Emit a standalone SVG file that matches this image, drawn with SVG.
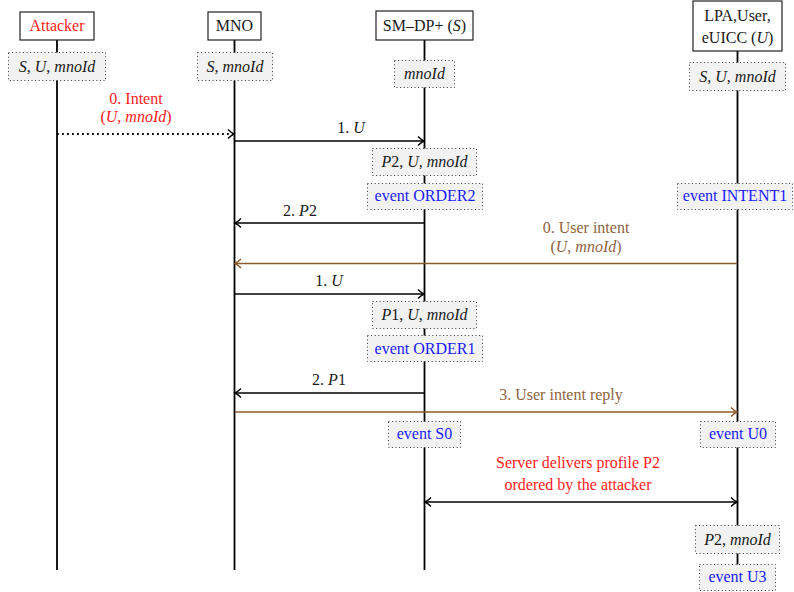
<svg xmlns="http://www.w3.org/2000/svg" width="794" height="592" viewBox="0 0 794 592">
<style>
text{font-family:"Liberation Serif","DejaVu Serif",serif;font-size:16px;text-anchor:middle;fill:#1a1a1a}
.i{font-style:italic}
.red{fill:#ff1a1a}
.blue{fill:#1a1aff}
.brown{fill:#8f6340}
.hdr{fill:#fff;stroke:#222;stroke-width:1.2}
.kb{fill:#f2f2f2;stroke:#333;stroke-width:1;stroke-dasharray:1 2.6}
.life{stroke:#000;stroke-width:1.8;fill:none}
.msg{stroke:#000;stroke-width:1.6;fill:none}
.bmsg{stroke:#8b5a2b;stroke-width:1.6;fill:none}
</style>
<defs>
<marker id="ah" markerUnits="userSpaceOnUse" markerWidth="10" markerHeight="12" refX="8" refY="6" orient="auto-start-reverse"><path d="M2,1.5 Q5,4.5 8,6 Q5,7.5 2,10.5" fill="none" stroke="#000" stroke-width="1.4"/></marker>
<marker id="ahb" markerUnits="userSpaceOnUse" markerWidth="10" markerHeight="12" refX="8" refY="6" orient="auto-start-reverse"><path d="M2,1.5 Q5,4.5 8,6 Q5,7.5 2,10.5" fill="none" stroke="#8b5a2b" stroke-width="1.4"/></marker>
</defs>
<rect width="794" height="592" fill="#fff"/>
<g id="lifelines">
<line class="life" x1="57" y1="40" x2="57" y2="570"/>
<line class="life" x1="234.5" y1="40" x2="234.5" y2="570"/>
<line class="life" x1="424.5" y1="40" x2="424.5" y2="570"/>
<line class="life" x1="737.5" y1="51" x2="737.5" y2="570"/>
</g>
<g id="connectors">
<line x1="57" y1="134" x2="234" y2="134" stroke="#000" stroke-width="1.8" stroke-dasharray="1.8 3.2" marker-end="url(#ah)"/>
<line class="msg" x1="235" y1="141" x2="424" y2="141" marker-end="url(#ah)"/>
<line class="msg" x1="424" y1="223" x2="235" y2="223" marker-end="url(#ah)"/>
<line class="bmsg" x1="737" y1="263.5" x2="235" y2="263.5" marker-end="url(#ahb)"/>
<line class="msg" x1="235" y1="294" x2="424" y2="294" marker-end="url(#ah)"/>
<line class="msg" x1="424" y1="393" x2="235" y2="393" marker-end="url(#ah)"/>
<line class="bmsg" x1="235" y1="412" x2="737" y2="412" marker-end="url(#ahb)"/>
<line class="msg" x1="425" y1="502" x2="737" y2="502" marker-start="url(#ah)" marker-end="url(#ah)"/>
<text x="136" y="104" class="red">0. Intent</text>
<text x="136" y="122" class="red">(<tspan class="i">U</tspan>, <tspan class="i">mnoId</tspan>)</text>
<text x="351" y="133">1. <tspan class="i">U</tspan></text>
<text x="300" y="216">2. <tspan class="i">P</tspan>2</text>
<text x="586" y="233" class="brown">0. User intent</text>
<text x="586" y="252" class="brown">(<tspan class="i">U</tspan>, <tspan class="i">mnoId</tspan>)</text>
<text x="329" y="286">1. <tspan class="i">U</tspan></text>
<text x="329" y="385">2. <tspan class="i">P</tspan>1</text>
<text x="561" y="400" class="brown">3. User intent reply</text>
<text x="578" y="468" class="red">Server delivers profile P2</text>
<text x="578" y="490" class="red">ordered by the attacker</text>
</g>
<g id="attacker">
<rect class="hdr" x="20" y="12" width="74" height="28"/>
<text x="57" y="31" class="red">Attacker</text>
<rect class="kb" x="8.5" y="52.5" width="97" height="28"/>
<text x="57" y="72"><tspan class="i">S</tspan>, <tspan class="i">U</tspan>, <tspan class="i">mnoId</tspan></text>
</g>
<g id="mno">
<rect class="hdr" x="208" y="12" width="53" height="28"/>
<text x="234.5" y="31">MNO</text>
<rect class="kb" x="197.5" y="52.5" width="75" height="28"/>
<text x="235" y="72"><tspan class="i">S</tspan>, <tspan class="i">mnoId</tspan></text>
</g>
<g id="smdp">
<rect class="hdr" x="376" y="11" width="97" height="29"/>
<text x="424.5" y="31">SM–DP+ (<tspan class="i">S</tspan>)</text>
<rect class="kb" x="394.5" y="60.5" width="60" height="27"/>
<text x="424.5" y="79"><tspan class="i">mnoId</tspan></text>
</g>
<g id="lpa">
<rect class="hdr" x="693" y="1" width="89" height="50"/>
<text x="737.5" y="21">LPA,User,</text>
<text x="737.5" y="43">eUICC (<tspan class="i">U</tspan>)</text>
<rect class="kb" x="689.5" y="62.5" width="96" height="28"/>
<text x="737.5" y="82"><tspan class="i">S</tspan>, <tspan class="i">U</tspan>, <tspan class="i">mnoId</tspan></text>
</g>
<g id="p2box">
<rect class="kb" x="372.5" y="148.5" width="104" height="27"/>
<text x="424.5" y="167"><tspan class="i">P</tspan>2, <tspan class="i">U</tspan>, <tspan class="i">mnoId</tspan></text>
</g>
<g id="order2">
<rect class="kb" x="367.5" y="183.5" width="115" height="26"/>
<text x="425" y="201" class="blue">event ORDER2</text>
</g>
<g id="intent1">
<rect class="kb" x="677.5" y="183.5" width="115" height="26"/>
<text x="735" y="201" class="blue">event INTENT1</text>
</g>
<g id="p1box">
<rect class="kb" x="372.5" y="301.5" width="104" height="27"/>
<text x="424.5" y="320"><tspan class="i">P</tspan>1, <tspan class="i">U</tspan>, <tspan class="i">mnoId</tspan></text>
</g>
<g id="order1">
<rect class="kb" x="367.5" y="335.5" width="115" height="26"/>
<text x="425" y="354" class="blue">event ORDER1</text>
</g>
<g id="s0">
<rect class="kb" x="388.5" y="421.5" width="72" height="26"/>
<text x="424.5" y="439" class="blue">event S0</text>
</g>
<g id="u0">
<rect class="kb" x="700.5" y="421.5" width="75" height="26"/>
<text x="738" y="439" class="blue">event U0</text>
</g>
<g id="p2mno">
<rect class="kb" x="695.5" y="525.5" width="84" height="28"/>
<text x="737.5" y="545"><tspan class="i">P</tspan>2, <tspan class="i">mnoId</tspan></text>
</g>
<g id="u3">
<rect class="kb" x="699.5" y="564.5" width="76" height="26"/>
<text x="737.5" y="582" class="blue">event U3</text>
</g>
</svg>
